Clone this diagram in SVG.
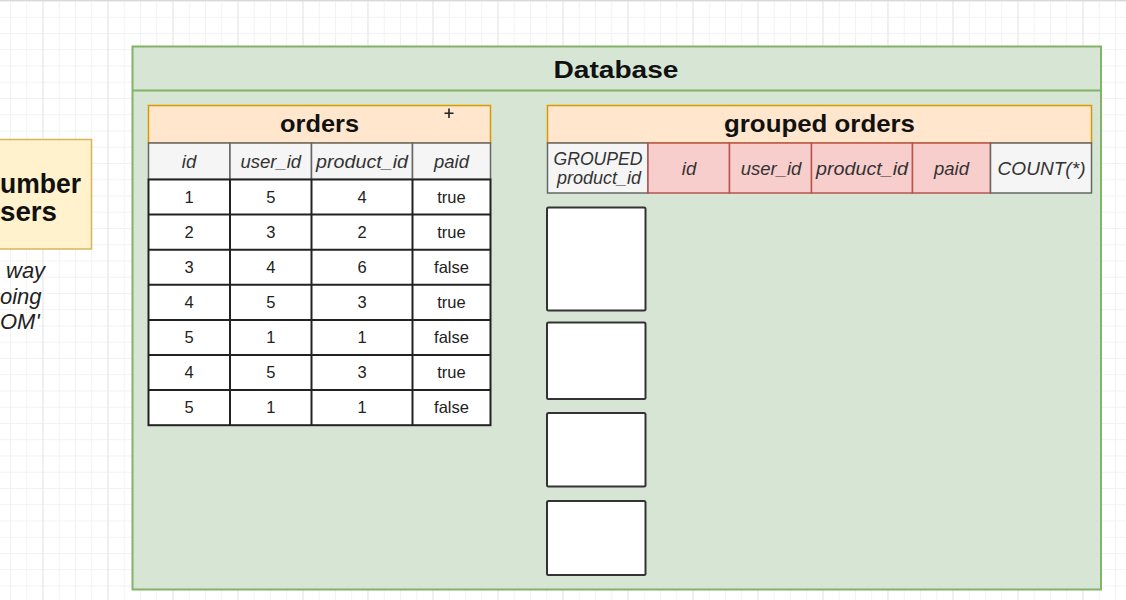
<svg xmlns="http://www.w3.org/2000/svg" width="1126" height="600" viewBox="0 0 1126 600">
  <defs>
    <!-- canvas grid -->
    <pattern id="gridMinor" patternUnits="userSpaceOnUse" x="10" y="0.5" width="16.25" height="16.25">
      <path d="M0.5 0 V16.25 M0 0.5 H16.25" fill="none" stroke="#f2f2f2" stroke-width="1"/>
    </pattern>
    <pattern id="gridMajor" patternUnits="userSpaceOnUse" x="42.5" y="0" width="65" height="600">
      <path d="M0.5 0 V600" fill="none" stroke="#e6e6e6" stroke-width="1"/>
    </pattern>
    <style>
      .sans { font-family: "Liberation Sans", Arial, Helvetica, sans-serif; }
      .title { font-weight: bold; font-size: 24px; fill: #111; text-anchor: middle; }
      .colhead { font-style: italic; font-size: 18.5px; fill: #333; text-anchor: middle; }
      .cell { font-size: 16.5px; fill: #222; text-anchor: middle; }
      .hdrBox { fill: #ffe6cc; stroke: #d79b00; stroke-width: 1.5; }
      .greyCell { fill: #f5f5f5; stroke: #666; stroke-width: 1.5; }
      .redCell { fill: #f8cecc; stroke: #b85450; stroke-width: 1.5; }
      .dataCell { fill: #ffffff; stroke: #222; stroke-width: 2; }
      .slot { fill: #ffffff; stroke: #333; stroke-width: 2; }
    </style>
  </defs>

  <!-- background -->
  <rect x="0" y="0" width="1126" height="600" fill="#ffffff"/>
  <rect x="0" y="0" width="1126" height="600" fill="url(#gridMinor)"/>
  <rect x="0" y="0" width="1126" height="600" fill="url(#gridMajor)"/>
  <line x1="0" y1="0.5" x2="1126" y2="0.5" stroke="#d8d8d8" stroke-width="1.5"/>

  <!-- note box at the left edge -->
  <g id="note" class="sans">
    <rect x="-20" y="139.5" width="111.5" height="109.5" fill="#fff2cc" stroke="#d6b656" stroke-width="1.5"/>
    <text x="0" y="193" font-size="27" font-weight="bold" fill="#111" textLength="81" lengthAdjust="spacingAndGlyphs">umber</text>
    <text x="0" y="221" font-size="27" font-weight="bold" fill="#111" textLength="57" lengthAdjust="spacingAndGlyphs">sers</text>
  </g>
  <g id="note-caption" class="sans" font-style="italic" font-size="22" fill="#222">
    <text x="6" y="278">way</text>
    <text x="0" y="304">oing</text>
    <text x="0" y="329">OM'</text>
  </g>

  <!-- database container -->
  <g id="database" class="sans">
    <rect x="132.5" y="46.5" width="968.5" height="543" fill="#d7e5d5" stroke="#82b366" stroke-width="2"/>
    <line x1="132.5" y1="90.5" x2="1101" y2="90.5" stroke="#82b366" stroke-width="2"/>
    <text class="title" x="616" y="78" font-size="25" textLength="125" lengthAdjust="spacingAndGlyphs">Database</text>
  </g>

  <!-- orders table -->
  <g id="orders" class="sans">
    <rect class="hdrBox" x="148.5" y="105.5" width="342" height="37.5"/>
    <text class="title" x="319.5" y="132" textLength="79" lengthAdjust="spacingAndGlyphs">orders</text>

    <rect class="greyCell" x="148.5" y="143" width="81.5" height="36.5"/>
    <rect class="greyCell" x="230" y="143" width="81.5" height="36.5"/>
    <rect class="greyCell" x="311.5" y="143" width="101" height="36.5"/>
    <rect class="greyCell" x="412.5" y="143" width="78" height="36.5"/>
    <text class="colhead" x="189" y="168">id</text>
    <text class="colhead" x="270.75" y="168">user_id</text>
    <text class="colhead" x="362" y="168" textLength="92" lengthAdjust="spacingAndGlyphs">product_id</text>
    <text class="colhead" x="451.5" y="168">paid</text>

    <!-- data grid -->
    <rect class="dataCell" x="148.5" y="179.5" width="342" height="245.7"/>
    <g stroke="#222" stroke-width="2">
      <line x1="230" y1="179.5" x2="230" y2="425.2"/>
      <line x1="311.5" y1="179.5" x2="311.5" y2="425.2"/>
      <line x1="412.5" y1="179.5" x2="412.5" y2="425.2"/>
      <line x1="148.5" y1="214.6" x2="490.5" y2="214.6"/>
      <line x1="148.5" y1="249.7" x2="490.5" y2="249.7"/>
      <line x1="148.5" y1="284.8" x2="490.5" y2="284.8"/>
      <line x1="148.5" y1="319.9" x2="490.5" y2="319.9"/>
      <line x1="148.5" y1="355" x2="490.5" y2="355"/>
      <line x1="148.5" y1="390.1" x2="490.5" y2="390.1"/>
    </g>
    <g class="cell">
      <text x="189" y="203">1</text><text x="270.75" y="203">5</text><text x="362" y="203">4</text><text x="451.5" y="203">true</text>
      <text x="189" y="238">2</text><text x="270.75" y="238">3</text><text x="362" y="238">2</text><text x="451.5" y="238">true</text>
      <text x="189" y="273">3</text><text x="270.75" y="273">4</text><text x="362" y="273">6</text><text x="451.5" y="273">false</text>
      <text x="189" y="308">4</text><text x="270.75" y="308">5</text><text x="362" y="308">3</text><text x="451.5" y="308">true</text>
      <text x="189" y="343">5</text><text x="270.75" y="343">1</text><text x="362" y="343">1</text><text x="451.5" y="343">false</text>
      <text x="189" y="378">4</text><text x="270.75" y="378">5</text><text x="362" y="378">3</text><text x="451.5" y="378">true</text>
      <text x="189" y="413">5</text><text x="270.75" y="413">1</text><text x="362" y="413">1</text><text x="451.5" y="413">false</text>
    </g>

    <!-- move cursor -->
    <path d="M449 108.5 V118 M444.5 113.2 H453.5" stroke="#222" stroke-width="1.6" fill="none"/>
  </g>

  <!-- grouped orders table -->
  <g id="grouped-orders" class="sans">
    <rect class="hdrBox" x="547.5" y="105.5" width="544" height="37.5"/>
    <text class="title" x="819.5" y="132" textLength="191" lengthAdjust="spacingAndGlyphs">grouped orders</text>

    <rect class="greyCell" x="547.5" y="143" width="100.5" height="50"/>
    <rect class="redCell" x="648" y="143" width="81.5" height="50"/>
    <rect class="redCell" x="729.5" y="143" width="82" height="50"/>
    <rect class="redCell" x="811.5" y="143" width="101" height="50"/>
    <rect class="redCell" x="912.5" y="143" width="78" height="50"/>
    <rect class="greyCell" x="990.5" y="143" width="101" height="50"/>

    <text class="colhead" x="598" y="165" font-size="16.5" fill="#444" textLength="89" lengthAdjust="spacingAndGlyphs">GROUPED</text>
    <text class="colhead" x="599" y="184" font-size="16.5" fill="#444" textLength="84" lengthAdjust="spacingAndGlyphs">product_id</text>
    <text class="colhead" x="689" y="175">id</text>
    <text class="colhead" x="771" y="175">user_id</text>
    <text class="colhead" x="862" y="175" textLength="92" lengthAdjust="spacingAndGlyphs">product_id</text>
    <text class="colhead" x="951.5" y="175">paid</text>
    <text class="colhead" x="1041.5" y="175" textLength="88" lengthAdjust="spacingAndGlyphs">COUNT(*)</text>
  </g>

  <!-- empty group slots -->
  <g id="slot-1"><rect class="slot" x="547" y="207.5" width="98.5" height="103" rx="1.5"/></g>
  <g id="slot-2"><rect class="slot" x="547" y="322.5" width="98.5" height="76.5" rx="1.5"/></g>
  <g id="slot-3"><rect class="slot" x="547" y="413" width="98.5" height="73.5" rx="1.5"/></g>
  <g id="slot-4"><rect class="slot" x="547" y="501" width="98.5" height="74" rx="1.5"/></g>

  <g id="connectors"></g>
</svg>
